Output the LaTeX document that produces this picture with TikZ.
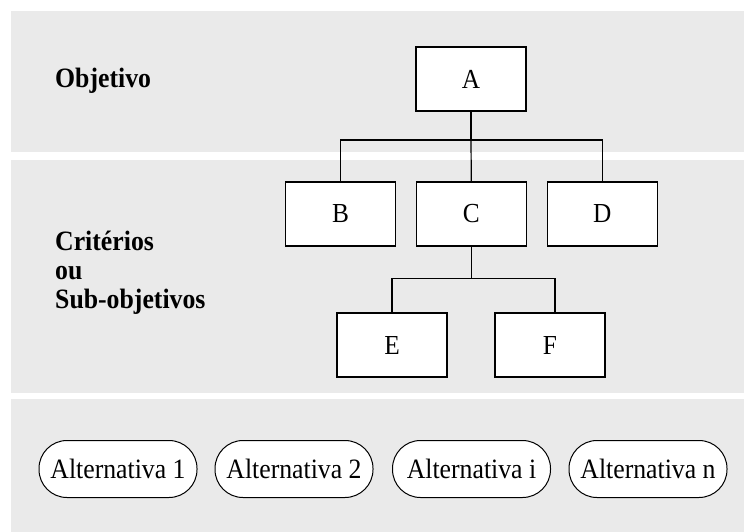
\documentclass[tikz,border=0pt]{standalone}
\usepackage{fontspec}
\setmainfont{Liberation Serif}[FakeStretch=0.92]
\definecolor{bandgray}{RGB}{234,234,234}
\begin{document}
\begin{tikzpicture}[x=1pt,y=-1pt,
  band/.style={fill=bandgray,draw=none},
  box/.style={draw=black,fill=white,line width=1.2pt,minimum width=110pt,minimum height=64pt,inner sep=0pt,font=\fontsize{27.5}{29}\selectfont},
  alt/.style={draw=black,fill=white,line width=1pt,rounded corners=28pt,minimum width=158pt,minimum height=57pt,inner sep=0pt,font=\fontsize{28}{29}\selectfont},
  lbl/.style={anchor=base west,inner sep=0pt,align=left,font=\fontsize{28}{29}\selectfont\bfseries},
  conn/.style={draw=black,line width=1.2pt}]
\useasboundingbox (0,0) rectangle (744,532);
\fill[white] (0,0) rectangle (744,532);
\path[band] (10.5,11) rectangle (744,152);
\path[band] (10.5,160) rectangle (744,392.5);
\path[band] (10.5,399) rectangle (744,532);

\node[lbl] (lobj) at (55,87.5) {Objetivo};
\node[lbl] (lcrit) at (55,308) {Critérios\\ou\\Sub-objetivos};

\node[box] (A) at (471,79) {A};
\node[box] (B) at (340.5,214) {B};
\node[box] (C) at (471.3,214) {C};
\node[box] (D) at (602.3,214) {D};
\node[box] (E) at (392,345) {E};
\node[box] (F) at (550,345) {F};

\coordinate (j1) at (471,140);
\coordinate (j2) at (471.3,278.5);
\draw[conn] (A.south) -- (j1);
\draw[conn] (j1) -| (B.north);
\draw[conn] (j1) -| (D.north);
\draw[conn] (j1) -- (C.north);
\draw[conn] (C.south) -- (j2);
\draw[conn] (j2) -| (E.north);
\draw[conn] (j2) -| ([xshift=5pt]F.north);

\node[alt] (a1) at (118,469) {Alternativa 1};
\node[alt] (a2) at (294,469) {Alternativa 2};
\node[alt] (a3) at (471.5,469) {Alternativa i};
\node[alt] (a4) at (648,469) {Alternativa n};
\end{tikzpicture}
\end{document}
